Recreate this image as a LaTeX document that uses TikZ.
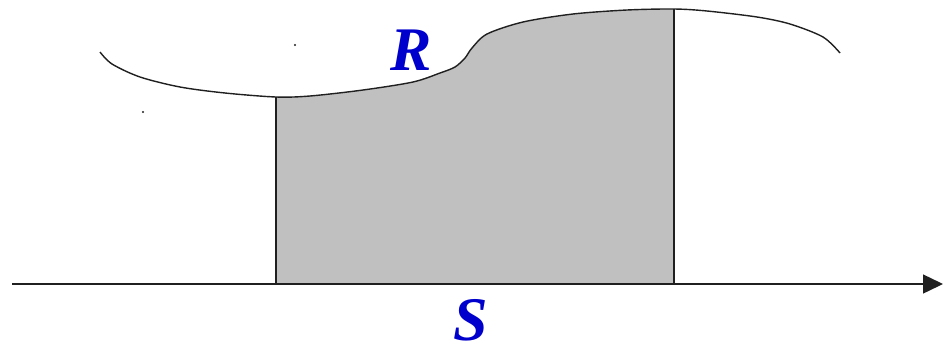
\documentclass[tikz,border=0pt]{standalone}
\usepackage{fontspec}
\setmainfont{Liberation Serif}
\usetikzlibrary{arrows.meta}
\definecolor{lblue}{HTML}{0000CC}
\definecolor{regiongray}{HTML}{C0C0C0}
\definecolor{ink}{HTML}{202020}
\begin{document}
\begin{tikzpicture}[x=1pt,y=-1pt,
  ln/.style={draw=ink,line width=1.4pt},
  lbl/.style={text=lblue,font=\fontsize{62}{62}\selectfont\bfseries\itshape,inner sep=0pt}]
\useasboundingbox (0,0) rectangle (949,349);
% shaded region
\fill[regiongray] plot[smooth,tension=0.5] coordinates {(276,97) (310,96) (363,90) (413,82) (440,73) (455,67) (465,58) (472,48) (487,34) (523,22) (573,14) (627,10) (674,9)} -- (674,284) -- (276,284) -- cycle;
% curve
\draw[ln] plot[smooth,tension=0.5] coordinates {(100,52) (112,64) (140,77) (180,87) (225,93) (276,97) (310,96) (363,90) (413,82) (440,73) (455,67) (465,58) (472,48) (487,34) (523,22) (573,14) (627,10) (674,9) (707,11) (757,17) (790,24) (823,37) (840,53)};
% axis
\coordinate (ax0) at (12,284);
\coordinate (ax1) at (943,284);
\coordinate (a) at (276,284);
\coordinate (a1) at (276,97);
\coordinate (b) at (674,284);
\coordinate (b1) at (674,9);
\draw[ln] (a) -- (a1);
\draw[ln] (b) -- (b1);
\draw[ln,-{Triangle[length=20pt,width=19pt]}] (ax0) -- (ax1);
% specks
\fill[ink] (295,45) circle (1.1);
\fill[ink] (143,112) circle (1.1);
% labels
\node[lbl] (R) at (411,50) {R};
\node[lbl] (S) at (471,320) {S};
\end{tikzpicture}
\end{document}
